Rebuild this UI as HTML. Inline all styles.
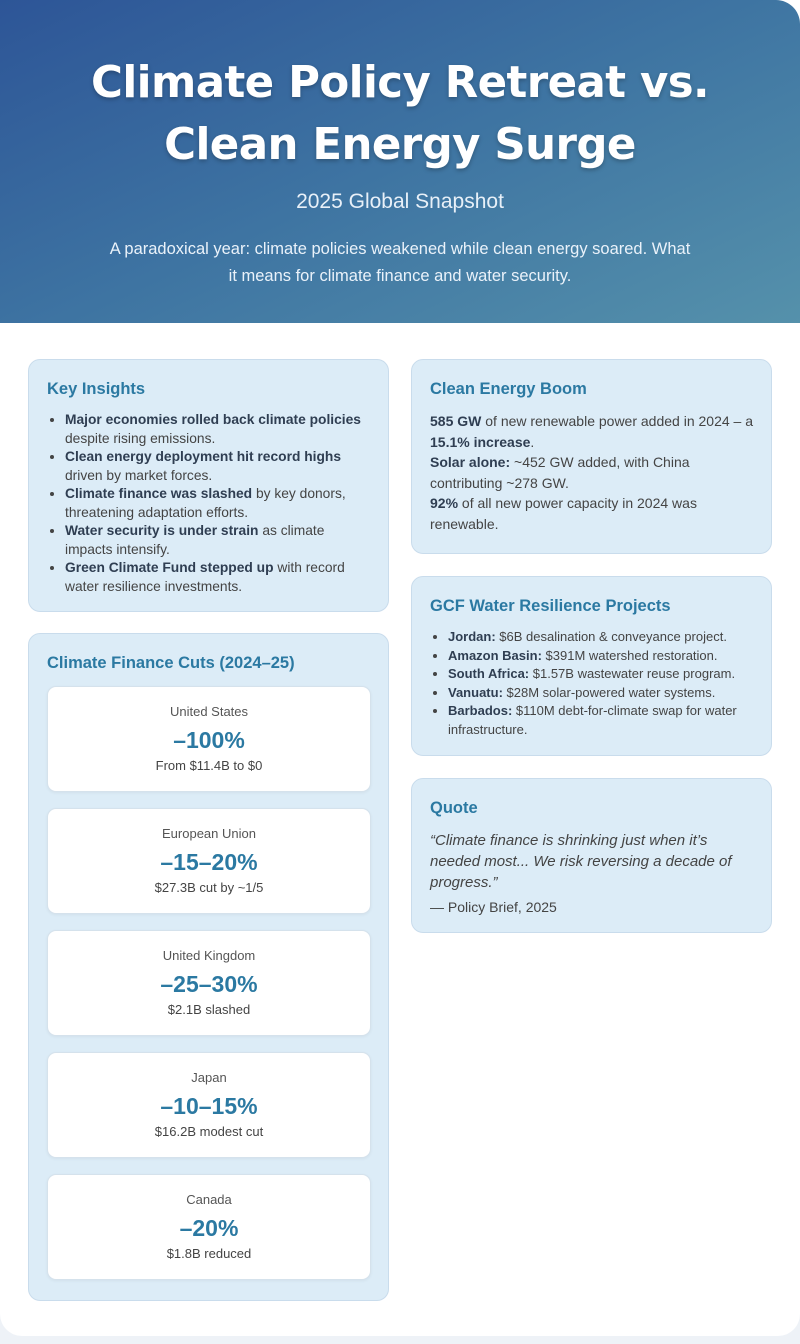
<!DOCTYPE html>
<html><head><meta charset="utf-8"><style>
*{box-sizing:border-box;margin:0;padding:0}
body{width:800px;height:1344px;background:#eef2f7;font-family:"Liberation Sans",sans-serif;color:#333;overflow:hidden}
.wrap{position:absolute;left:0;top:0;width:800px;height:1336px;background:#fff;border-radius:0 0 22px 22px;overflow:hidden}
.hdr{position:absolute;left:0;top:0;width:800px;height:323px;background:linear-gradient(155deg,#2d5597 0%,#3e74a2 50%,#5591ab 100%);border-radius:0 24px 0 0;text-align:center;color:#fff}
h1{position:absolute;top:52px;left:0;width:800px;font-family:"DejaVu Sans","Liberation Sans",sans-serif;font-size:43.5px;line-height:62px;font-weight:bold;letter-spacing:-0.6px;text-shadow:0 2px 4px rgba(0,0,0,.25)}
.sub{position:absolute;top:190px;width:800px;font-size:21px;color:#e8f0f8}
.lead{position:absolute;top:236px;left:60px;width:680px;font-size:16.5px;line-height:27px;color:#eaf2fa}
.card{position:absolute;background:#dcecf7;border:1px solid #c9dcec;border-radius:12px;padding:20px 18px}
.card h2{font-size:16.5px;color:#2b79a2;font-weight:bold;margin-bottom:12px}
.card ul{padding-left:18px;font-size:13.8px;line-height:18.5px;color:#444}
.card ul b{color:#2f3e52}
.card p{font-size:14px;line-height:20.5px;color:#444}
.card p b{color:#2f3e52}
.fc{position:absolute;left:18px;width:324px;height:106px;background:#fff;border:1px solid #d5e2ec;border-radius:9px;text-align:center;box-shadow:0 1px 3px rgba(0,0,0,.05)}
.fc .l{margin-top:17px;font-size:13px;color:#555}
.fc .v{margin-top:8px;font-size:23px;font-weight:bold;color:#2b79a2}
.fc .s{margin-top:4px;font-size:13px;color:#444}
</style></head><body>
<div class="wrap">
<div class="hdr">
<h1>Climate Policy Retreat vs.<br>Clean Energy Surge</h1>
<div class="sub">2025 Global Snapshot</div>
<div class="lead">A paradoxical year: climate policies weakened while clean energy soared. What<br>it means for climate finance and water security.</div>
</div>

<div class="card" style="left:28px;top:359px;width:361px;height:253px">
<h2>Key Insights</h2>
<ul>
<li><b>Major economies rolled back climate policies</b> despite rising emissions.</li>
<li><b>Clean energy deployment hit record highs</b> driven by market forces.</li>
<li><b>Climate finance was slashed</b> by key donors, threatening adaptation efforts.</li>
<li><b>Water security is under strain</b> as climate impacts intensify.</li>
<li><b>Green Climate Fund stepped up</b> with record water resilience investments.</li>
</ul></div>

<div class="card" style="left:28px;top:633px;width:361px;height:668px">
<h2>Climate Finance Cuts (2024–25)</h2>
<div class="fc" style="top:52px"><div class="l">United States</div><div class="v">–100%</div><div class="s">From $11.4B to $0</div></div>
<div class="fc" style="top:174px"><div class="l">European Union</div><div class="v">–15–20%</div><div class="s">$27.3B cut by ~1/5</div></div>
<div class="fc" style="top:296px"><div class="l">United Kingdom</div><div class="v">–25–30%</div><div class="s">$2.1B slashed</div></div>
<div class="fc" style="top:418px"><div class="l">Japan</div><div class="v">–10–15%</div><div class="s">$16.2B modest cut</div></div>
<div class="fc" style="top:540px"><div class="l">Canada</div><div class="v">–20%</div><div class="s">$1.8B reduced</div></div>
</div>

<div class="card" style="left:411px;top:359px;width:361px;height:195px">
<h2>Clean Energy Boom</h2>
<p><b>585 GW</b> of new renewable power added in 2024 – a <b>15.1% increase</b>.<br><b>Solar alone:</b> ~452 GW added, with China contributing ~278 GW.<br><b>92%</b> of all new power capacity in 2024 was renewable.</p>
</div>

<div class="card" style="left:411px;top:576px;width:361px;height:180px">
<h2>GCF Water Resilience Projects</h2>
<ul style="font-size:13px">
<li><b>Jordan:</b> $6B desalination &amp; conveyance project.</li>
<li><b>Amazon Basin:</b> $391M watershed restoration.</li>
<li><b>South Africa:</b> $1.57B wastewater reuse program.</li>
<li><b>Vanuatu:</b> $28M solar-powered water systems.</li>
<li><b>Barbados:</b> $110M debt-for-climate swap for water infrastructure.</li>
</ul></div>

<div class="card" style="left:411px;top:778px;width:361px;height:155px">
<h2>Quote</h2>
<p style="font-style:italic;font-size:15px;line-height:21px;color:#444;width:322px">“Climate finance is shrinking just when it’s<br>needed most... We risk reversing a decade of<br>progress.”</p>
<p style="margin-top:4px">— Policy Brief, 2025</p>
</div>
</div>
</body></html>
